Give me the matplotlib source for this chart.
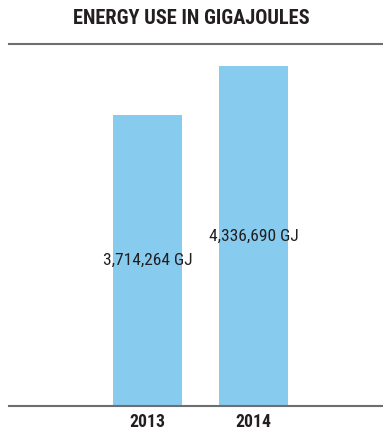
import matplotlib.pyplot as plt

years = ['2013', '2014']
energy_gj = [3714264, 4336690]

plt.rcParams['font.family'] = ['Roboto Condensed', 'DejaVu Sans']

fig = plt.figure(figsize=(3.83, 4.30), dpi=100)
ax = fig.add_axes([9 / 383, 1 - 406 / 430, 373 / 383, 362 / 430])

x = range(len(years))
ax.bar(x, energy_gj, width=0.65, color='#87cbee', zorder=2)

# value labels sit halfway up each bar
for xi, v in zip(x, energy_gj):
    ax.text(xi, v / 2, f'{v:,} GJ', ha='center', va='center',
            fontsize=12.5, color='#231f20')

ax.set_xlim(-1.307, 2.212)
ax.set_ylim(0, 4617000)
ax.set_xticks(list(x))
ax.set_xticklabels(years, fontsize=12.7, fontweight='bold', color='#231f20')
ax.tick_params(axis='x', length=0, pad=5)
ax.set_yticks([])

for side in ['left', 'right']:
    ax.spines[side].set_visible(False)
for side in ['top', 'bottom']:
    ax.spines[side].set_color('#6d6e70')
    ax.spines[side].set_linewidth(1.5)

fig.text(0.5, 1 - 18 / 430, 'ENERGY USE IN GIGAJOULES', ha='center', va='center',
         fontsize=14.7, fontweight='bold', color='#231f20')

fig.savefig('out.png', dpi=100)
